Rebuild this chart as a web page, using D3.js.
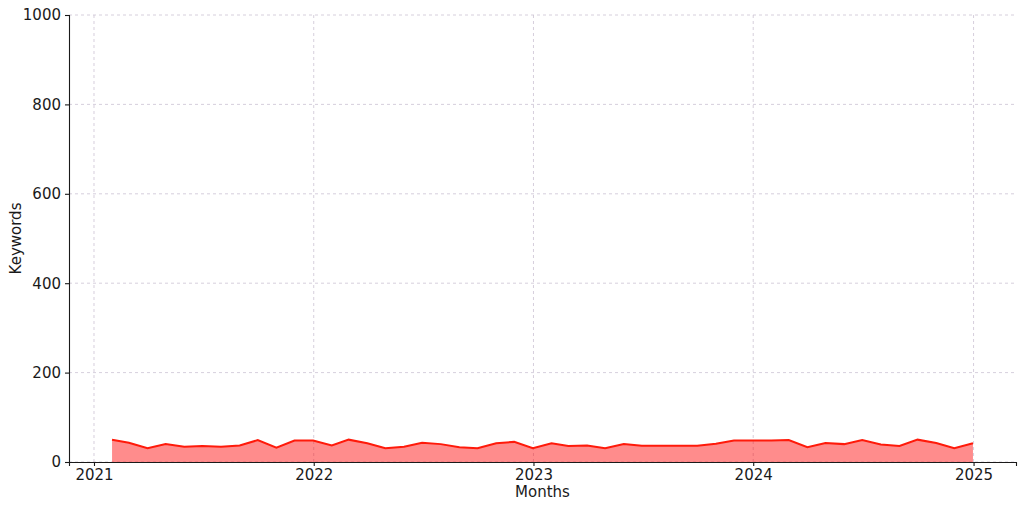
<!DOCTYPE html>
<html>
<head>
<meta charset="utf-8">
<script src="https://cdn.jsdelivr.net/npm/d3@7"></script>
<style>
  body { margin: 0; background: #fff; }
  text { font-family: "DejaVu Sans", sans-serif; }
</style>
</head>
<body>
<div id="chart-area"></div>
<script>
// monthly keyword counts, Jan 2021 .. Dec 2024 (month-end dates)
const months = d3.timeMonth.range(new Date(2021, 0, 1), new Date(2025, 0, 1))
  .map(d => new Date(d.getFullYear(), d.getMonth() + 1, 0));
const keywords = [
  50, 43, 31, 40, 34, 36, 34, 37, 49, 32, 48, 48,
  37, 50, 42, 31, 34, 43, 40, 33, 31, 42, 45, 31,
  42, 36, 37, 31, 40, 36.5, 36.5, 36.5, 36.5, 41, 48, 48,
  48, 49, 33, 42.5, 40, 49, 39, 36, 50, 42.5, 31, 42
];
const yTicks = [0, 200, 400, 600, 800, 1000];
const xTicks = [2021, 2022, 2023, 2024, 2025].map(y => new Date(y, 0, 1));

const data = months.map((m, i) => ({ date: m, value: keywords[i] }));

const margin = { top: 15, right: 8, bottom: 46, left: 69 };
const width = 1024 - margin.left - margin.right;
const height = 508 - margin.top - margin.bottom;

const svg = d3.select("#chart-area")
  .append("svg")
  .attr("width", 1024)
  .attr("height", 508);

const g = svg.append("g")
  .attr("transform", `translate(${margin.left}, ${margin.top})`);

// matplotlib-like 5% padding on the date axis
const first = months[0], last = months[months.length - 1];
const pad = (last - first) * 0.05;
const x = d3.scaleTime()
  .domain([new Date(+first - pad), new Date(+last + pad)])
  .range([0, width]);

const y = d3.scaleLinear()
  .domain([0, 1000])
  .range([height, 0]);

// grid
const gridColor = "#cbc3d3";

g.append("g")
  .selectAll("line")
  .data(xTicks)
  .join("line")
  .attr("x1", d => x(d)).attr("x2", d => x(d))
  .attr("y1", 0).attr("y2", height)
  .attr("stroke", gridColor)
  .attr("stroke-width", 0.8)
  .attr("stroke-dasharray", "3,3");

g.append("g")
  .selectAll("line")
  .data(yTicks)
  .join("line")
  .attr("x1", 0).attr("x2", width)
  .attr("y1", d => y(d)).attr("y2", d => y(d))
  .attr("stroke", gridColor)
  .attr("stroke-width", 0.8)
  .attr("stroke-dasharray", "3,3");

const area = d3.area()
  .x(d => x(d.date))
  .y0(y(0))
  .y1(d => y(d.value));

const line = d3.line()
  .x(d => x(d.date))
  .y(d => y(d.value));

g.append("path")
  .datum(data)
  .attr("d", area)
  .attr("fill", "#ff0000")
  .attr("fill-opacity", 0.45);

g.append("path")
  .datum(data)
  .attr("d", line)
  .attr("fill", "none")
  .attr("stroke", "#ff1a0a")
  .attr("stroke-width", 2);

const xAxis = d3.axisBottom(x)
  .tickValues(xTicks)
  .tickFormat(d3.timeFormat("%Y"))
  .tickSizeOuter(0)
  .tickSize(4)
  .tickPadding(3);

const yAxis = d3.axisLeft(y)
  .tickValues(yTicks)
  .tickFormat(d3.format("d"))
  .tickSizeOuter(0)
  .tickSize(4)
  .tickPadding(4);

const xAxisGroup = g.append("g")
  .attr("transform", `translate(0, ${height})`)
  .call(xAxis);

const yAxisGroup = g.append("g").call(yAxis);

[xAxisGroup, yAxisGroup].forEach(ax => {
  ax.selectAll("text").attr("font-size", "15px").attr("fill", "#1a1a1a").attr("font-family", "DejaVu Sans");
  ax.selectAll("path, line").attr("stroke", "#1a1a1a").attr("stroke-width", 1.1);
});

g.append("text")
  .attr("x", width / 2)
  .attr("y", height + 35)
  .attr("text-anchor", "middle")
  .attr("font-size", "15px")
  .attr("fill", "#1a1a1a")
  .text("Months");

g.append("text")
  .attr("transform", "rotate(-90)")
  .attr("x", -height / 2)
  .attr("y", -48)
  .attr("text-anchor", "middle")
  .attr("font-size", "15px")
  .attr("fill", "#1a1a1a")
  .text("Keywords");
</script>
</body>
</html>
